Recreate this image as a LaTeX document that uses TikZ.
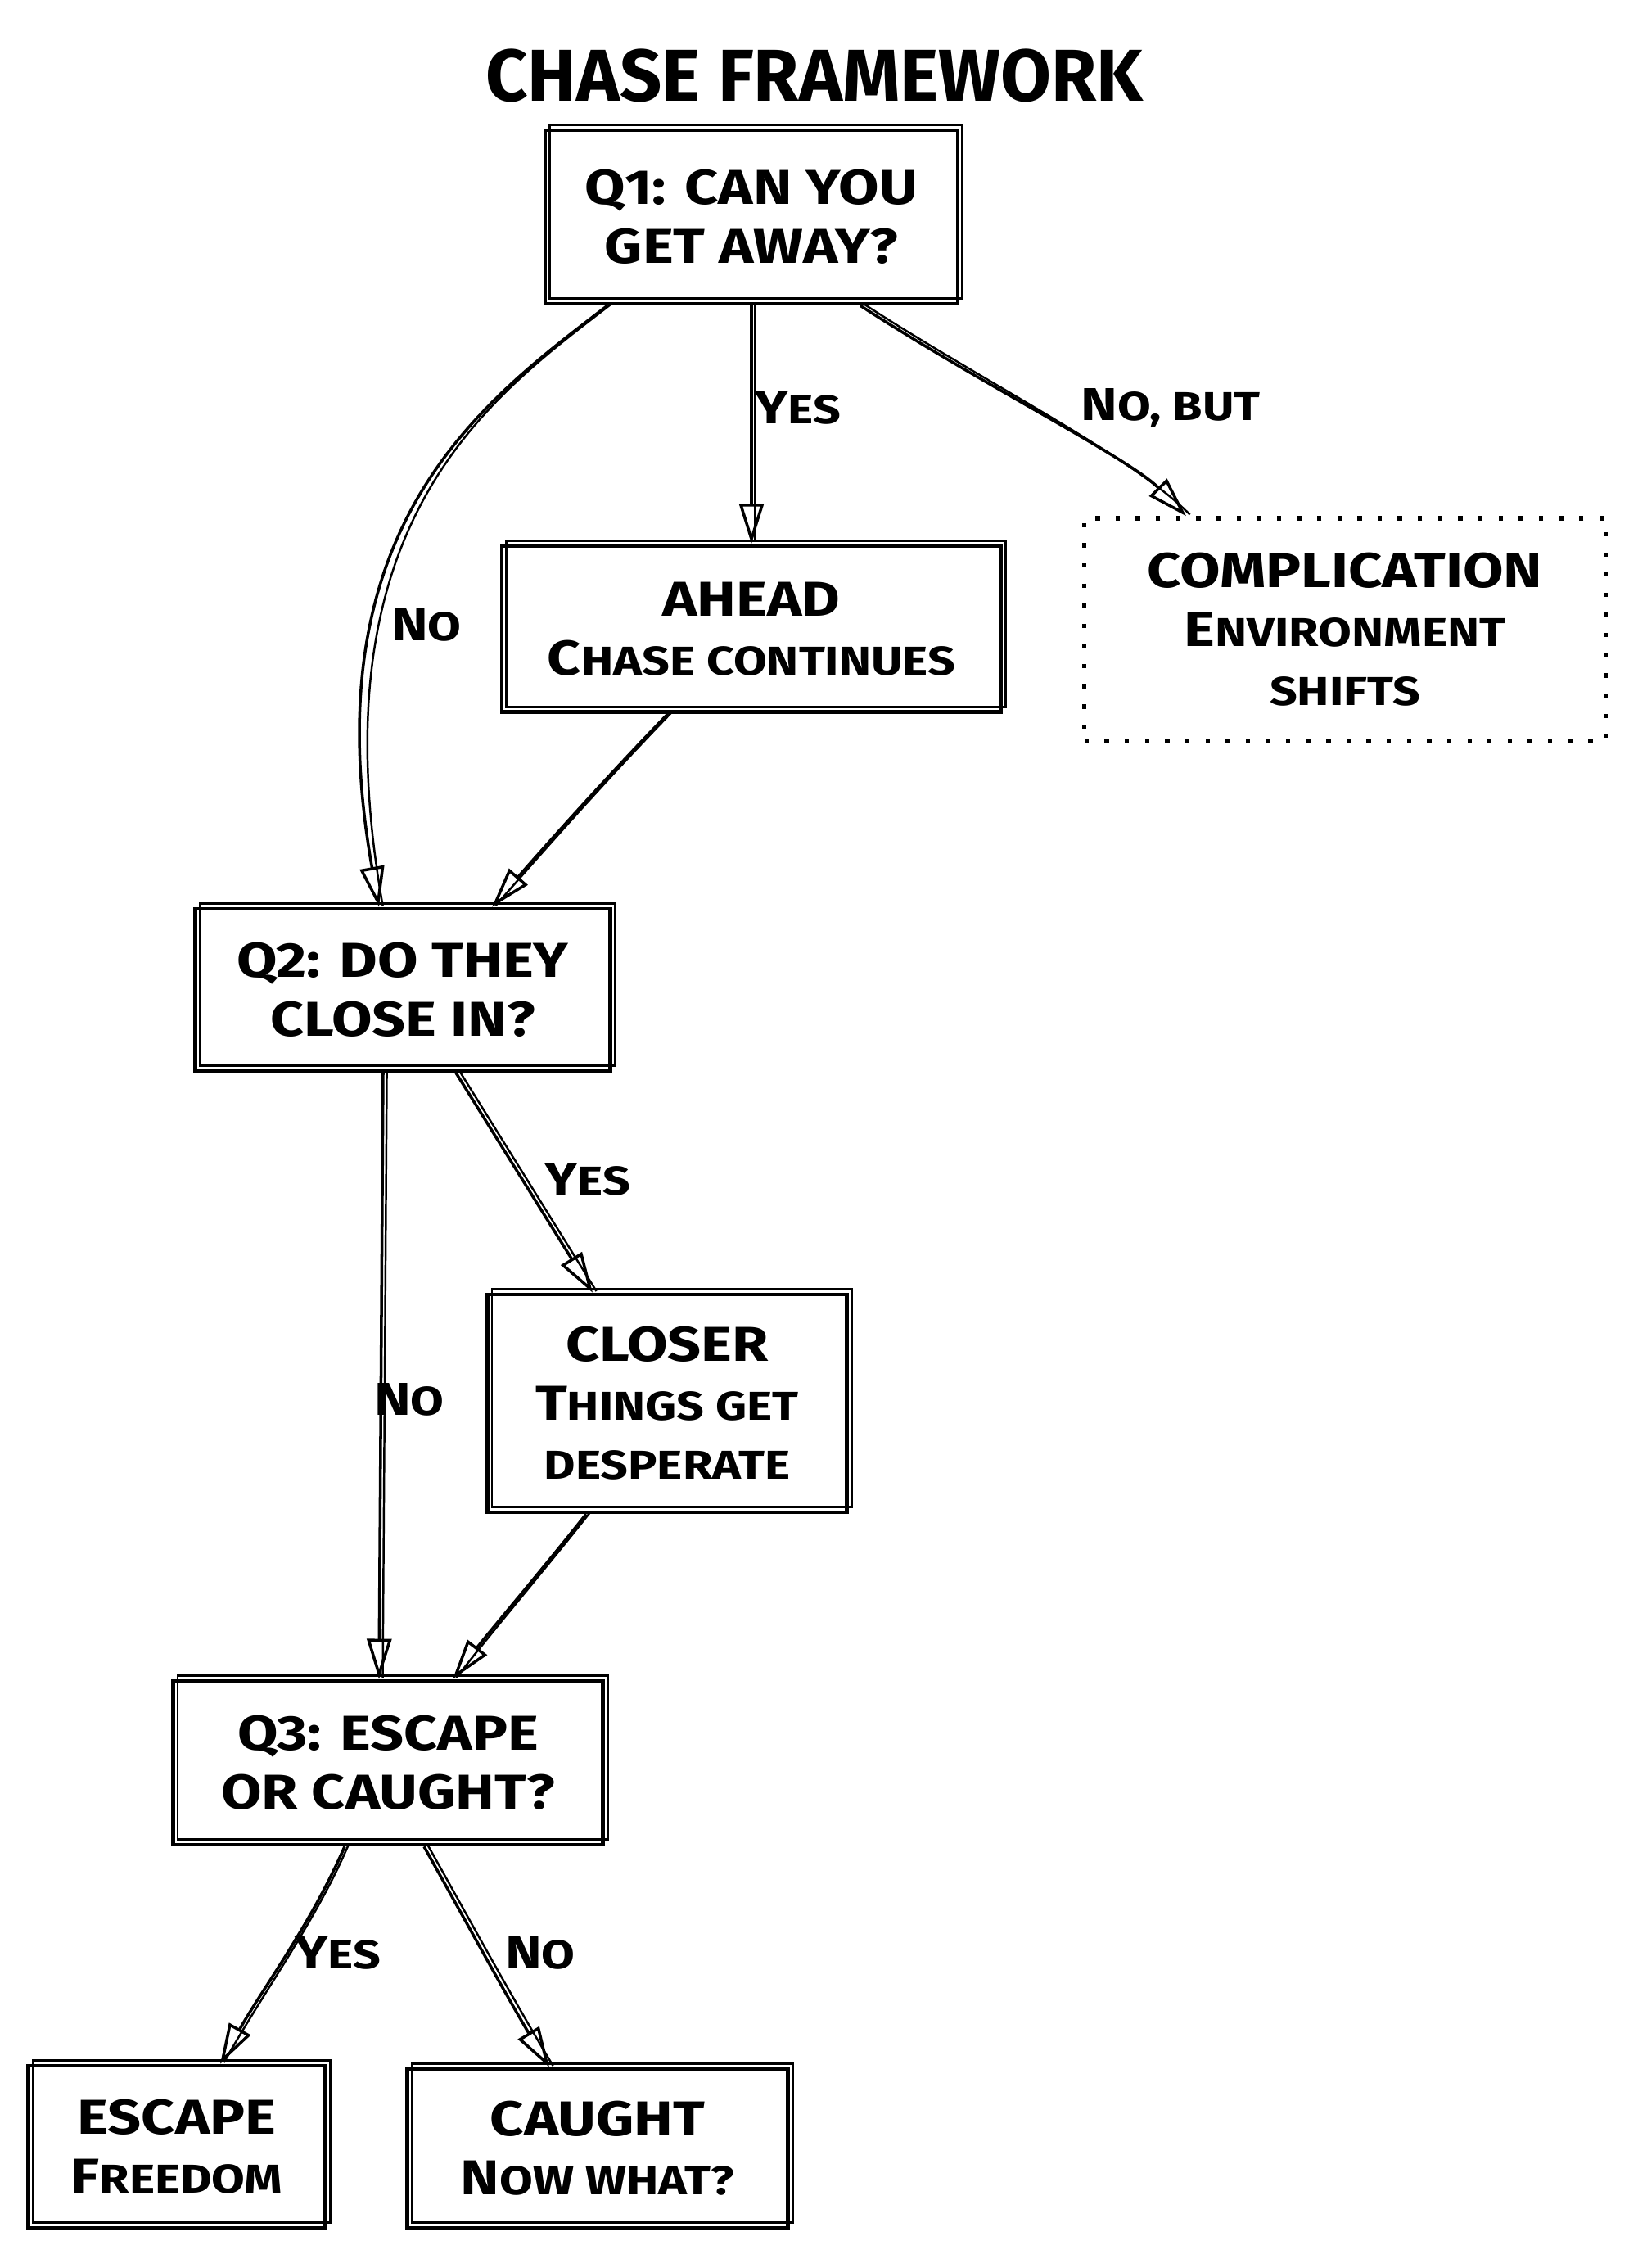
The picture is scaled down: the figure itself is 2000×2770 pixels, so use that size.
\documentclass[tikz,border=0pt]{standalone}
\usepackage{fontspec}
\setmainfont{Fira Sans}
\newfontfamily\handfont{Fira Sans}[FakeStretch=1.2]
\usetikzlibrary{arrows.meta,calc}
\newcommand\smc[1]{{\fontsize{14}{20.5}\selectfont\uppercase{#1}}}
\tikzset{
  titlestyle/.style={font=\bfseries\fontsize{25.5}{30}\selectfont, inner sep=0pt},
  box/.style={draw, line width=1.25pt, align=center, inner sep=0pt,
    font=\handfont\bfseries\fontsize{17}{20.5}\selectfont,
    postaction={draw, line width=0.8pt, transform canvas={shift={(1.6pt,1.8pt)}}}},
  dotbox/.style={draw, line width=1.5pt, dash pattern=on 1.5pt off 5.5pt, align=center, inner sep=0pt,
    font=\handfont\bfseries\fontsize{17}{20.5}\selectfont},
  conn/.style={line width=1pt, -{Triangle[open, length=14pt, width=8.5pt, line width=1pt]},
    postaction={draw, -, line width=0.7pt, transform canvas={shift={(1.3pt,0.5pt)}}}},
  lbl/.style={font=\handfont\bfseries\fontsize{16}{18}\selectfont, inner sep=0pt}
}
\begin{document}
\begin{tikzpicture}[x=0.01cm, y=-0.01cm]
\useasboundingbox (0,0) rectangle (2000,2770);
\node[titlestyle] (title) at (995,92) {CHASE FRAMEWORK};
\node[box, minimum width=5.04cm, minimum height=2.12cm] (q1) at (918,265) {Q1: CAN YOU\\GET AWAY?};
\node[box, minimum width=6.10cm, minimum height=2.03cm] (ahead) at (918,768) {AHEAD\\C\smc{hase continues}};
\node[dotbox, minimum width=6.36cm, minimum height=2.72cm] (comp) at (1643,769) {COMPLICATION\\E\smc{nvironment}\\\smc{shifts}};
\node[box, minimum width=5.07cm, minimum height=1.98cm] (q2) at (492,1209) {Q2: DO THEY\\CLOSE IN?};
\node[box, minimum width=4.39cm, minimum height=2.66cm] (closer) at (815,1714) {CLOSER\\T\smc{hings get}\\\smc{desperate}};
\node[box, minimum width=5.25cm, minimum height=2.00cm] (q3) at (474,2153) {Q3: ESCAPE\\OR CAUGHT?};
\node[box, minimum width=3.63cm, minimum height=1.98cm] (escape) at (216,2622) {ESCAPE\\F\smc{reedom}};
\node[box, minimum width=4.65cm, minimum height=1.94cm] (caught) at (730,2624) {CAUGHT\\N\smc{ow what?}};

\draw[conn] (q1.south) -- (ahead.north);
\draw[conn] ($(q1.south)+(133,0)$) .. controls (1200,470) and (1380,560) .. ($(comp.north)+(-194,0)$);
\draw[conn] ($(q1.south)+(-176,0)$) .. controls (590,490) and (380,640) .. ($(q2.north)+(-29,0)$);
\draw[conn] ($(ahead.south)+(-102,0)$) .. controls (740,950) and (660,1040) .. ($(q2.north)+(109,0)$);
\draw[conn] ($(q2.south)+(65,0)$) -- ($(closer.north)+(-91,0)$);
\draw[conn] ($(q2.south)+(-24,0)$) -- ($(q3.north)+(-11,0)$);
\draw[conn] ($(closer.south)+(-99,0)$) .. controls (660,1920) and (600,1990) .. ($(q3.north)+(79,0)$);
\draw[conn] ($(q3.south)+(-53,0)$) .. controls (380,2350) and (320,2430) .. ($(escape.north)+(53,0)$);
\draw[conn] ($(q3.south)+(44,0)$) .. controls (560,2330) and (620,2440) .. ($(caught.north)+(-59,0)$);

\node[lbl] (l1) at (975,498) {Y\smc{es}};
\node[lbl] (l2) at (1430,498) {N\smc{o, but}};
\node[lbl] (l3) at (521,763) {N\smc{o}};
\node[lbl] (l4) at (718,1440) {Y\smc{es}};
\node[lbl] (l5) at (500,1709) {N\smc{o}};
\node[lbl] (l6) at (413,2385) {Y\smc{es}};
\node[lbl] (l7) at (660,2385) {N\smc{o}};
\end{tikzpicture}
\end{document}
